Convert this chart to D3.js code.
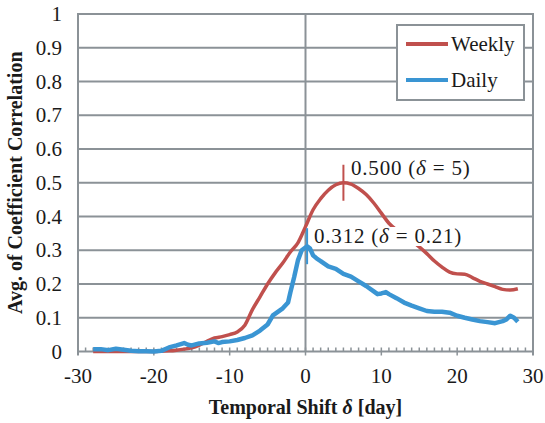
<!DOCTYPE html>
<html>
<head>
<meta charset="utf-8">
<script src="https://cdn.jsdelivr.net/npm/d3@7"></script>
</head>
<body style="margin:0">
<script>
// weekly series (smooth), shift in days
let weeklyX = [-28, -27, -26, -25, -24, -23, -22, -21, -20, -19, -18, -17, -16, -15, -14, -13, -12, -11, -10, -9, -8, -7, -6, -5, -4, -3, -2, -1, 0, 1, 2, 3, 4, 5, 6, 7, 8, 9, 10, 11, 12, 13, 14, 15, 16, 17, 18, 19, 20, 21, 22, 23, 24, 25, 26, 27, 28];
let weeklyY = [0, 0, 0, 0, 0, 0, 0, 0, 0, 0.001, 0.002, 0.004, 0.007, 0.011, 0.019, 0.03, 0.04, 0.044, 0.05, 0.058, 0.078, 0.124, 0.162, 0.2, 0.233, 0.262, 0.295, 0.322, 0.37, 0.42, 0.453, 0.478, 0.494, 0.5, 0.496, 0.483, 0.465, 0.44, 0.41, 0.38, 0.36, 0.345, 0.328, 0.31, 0.29, 0.268, 0.25, 0.235, 0.23, 0.229, 0.219, 0.208, 0.2, 0.192, 0.184, 0.182, 0.186];

// daily series (noisy)
let dailyX = [-28, -27, -26, -25, -24, -23, -22, -21, -20, -19, -18, -17, -16, -15.5, -15, -14, -13, -12, -11.5, -11, -10, -9, -8, -7, -6, -5, -4.3, -3, -2.3, -2, -1.5, -1, -0.5, 0.21, 0.6, 1, 1.5, 2, 3, 4, 5, 6, 7, 8, 9, 9.5, 10, 10.6, 11, 12, 13, 14, 15, 16, 17, 18, 19, 20, 21, 22, 23, 24, 25, 26, 26.5, 27, 27.5, 28];
let dailyY = [0.007, 0.007, 0.004, 0.008, 0.005, 0.002, 0.001, 0.001, 0, 0.002, 0.012, 0.018, 0.025, 0.02, 0.018, 0.024, 0.026, 0.03, 0.025, 0.028, 0.03, 0.034, 0.04, 0.048, 0.062, 0.08, 0.107, 0.128, 0.145, 0.175, 0.22, 0.27, 0.3, 0.312, 0.305, 0.285, 0.275, 0.268, 0.252, 0.245, 0.23, 0.222, 0.208, 0.194, 0.178, 0.17, 0.172, 0.176, 0.17, 0.158, 0.145, 0.136, 0.128, 0.12, 0.118, 0.118, 0.115, 0.106, 0.1, 0.095, 0.09, 0.087, 0.084, 0.09, 0.095, 0.106, 0.1, 0.088];

let xTicks = [-30, -20, -10, 0, 10, 20, 30];
let yTicks = [0, 0.1, 0.2, 0.3, 0.4, 0.5, 0.6, 0.7, 0.8, 0.9, 1];
let seriesNames = ['Weekly', 'Daily'];

let W = 545, H = 423;
let plotL = 78, plotR = 533, plotT = 14, plotB = 351.5;
let gridColor = '#8b9297';
let red = '#c0504d', blue = '#3a95d3';
let serif = 'Times New Roman';
let ink = '#1a1a1a';

let svg = d3.select('body').append('svg')
    .attr('width', W)
    .attr('height', H);

let x = d3.scaleLinear().domain([-30, 30]).range([plotL, plotR]);
let y = d3.scaleLinear().domain([0, 1]).range([plotB, plotT]);

function label(str, tx, ty, anchor, size) {
    return svg.append('text')
        .attr('x', tx)
        .attr('y', ty)
        .attr('text-anchor', anchor)
        .attr('font-family', serif)
        .attr('font-size', size)
        .attr('fill', ink)
        .text(str);
}

// horizontal grid
svg.append('g').selectAll('line')
    .data(yTicks.slice(1))
    .enter().append('line')
    .attr('x1', plotL).attr('x2', plotR)
    .attr('y1', d => y(d)).attr('y2', d => y(d))
    .attr('stroke', gridColor).attr('stroke-width', 2);

// vertical line at 0
svg.append('line')
    .attr('x1', x(0)).attr('x2', x(0))
    .attr('y1', plotT).attr('y2', plotB)
    .attr('stroke', gridColor).attr('stroke-width', 2);

// plot border (left, right) + axis
svg.append('line').attr('x1', plotL).attr('x2', plotL).attr('y1', plotT - 1).attr('y2', plotB + 4)
    .attr('stroke', gridColor).attr('stroke-width', 2);
svg.append('line').attr('x1', plotR).attr('x2', plotR).attr('y1', plotT - 1).attr('y2', plotB + 4)
    .attr('stroke', gridColor).attr('stroke-width', 2);
svg.append('line').attr('x1', plotL).attr('x2', plotR).attr('y1', plotB).attr('y2', plotB)
    .attr('stroke', gridColor).attr('stroke-width', 2);

// minor ticks every day, inside; majors cross the axis
svg.append('g').selectAll('line')
    .data(d3.range(-29, 30))
    .enter().append('line')
    .attr('x1', d => x(d)).attr('x2', d => x(d))
    .attr('y1', plotB - 4)
    .attr('y2', d => d % 10 == 0 ? plotB + 4 : plotB)
    .attr('stroke', gridColor).attr('stroke-width', 1.5);

// tick labels
for (let v of yTicks) label(String(v), 62, y(v) + 7, 'end', 21);
for (let v of xTicks) label(String(v), x(v), 383, 'middle', 21);

// axis titles
let xt = svg.append('text')
    .attr('x', x(0))
    .attr('y', 414)
    .attr('text-anchor', 'middle')
    .attr('font-family', serif)
    .attr('font-size', 20)
    .attr('font-weight', 'bold')
    .attr('fill', ink);
xt.append('tspan').text('Temporal Shift ');
xt.append('tspan').text('δ').attr('font-style', 'italic');
xt.append('tspan').text('  [day]');

svg.append('text')
    .text('Avg. of Coefficient Correlation')
    .attr('transform', 'translate(22,' + (y(0.5)) + ') rotate(-90)')
    .attr('text-anchor', 'middle')
    .attr('font-family', serif)
    .attr('font-size', 20)
    .attr('font-weight', 'bold')
    .attr('fill', ink);

// lines
let weeklyData = weeklyX.map((d, i) => [d, weeklyY[i]]);
let dailyData = dailyX.map((d, i) => [d, dailyY[i]]);

let smooth = d3.line()
    .x(d => x(d[0]))
    .y(d => y(d[1]))
    .curve(d3.curveMonotoneX);
let straight = d3.line()
    .x(d => x(d[0]))
    .y(d => y(d[1]));

svg.append('path')
    .datum(weeklyData)
    .attr('d', smooth)
    .attr('fill', 'none')
    .attr('stroke', red)
    .attr('stroke-width', 3.5);

svg.append('path')
    .datum(dailyData)
    .attr('d', straight)
    .attr('fill', 'none')
    .attr('stroke', blue)
    .attr('stroke-width', 4.5)
    .attr('stroke-linejoin', 'round');

// peak annotations
function annotate(px, py, color, val, shift, tx, ty) {
    svg.append('line')
        .attr('x1', x(px)).attr('x2', x(px))
        .attr('y1', y(py) - 18).attr('y2', y(py) + 18)
        .attr('stroke', color).attr('stroke-width', 2);

    let t = label('', tx, ty, 'start', 21)
        .attr('letter-spacing', 0.8);
    t.append('tspan').text(val + ' (');
    t.append('tspan').text('δ').attr('font-style', 'italic');
    t.append('tspan').text(' = ' + shift + ')');
    let bb = t.node().getBBox();
    svg.insert('rect', () => t.node())
        .attr('x', bb.x)
        .attr('y', bb.y + 3)
        .attr('width', bb.width)
        .attr('height', bb.height - 5)
        .attr('fill', '#fff');
}

annotate(weeklyX[33], weeklyY[33], red, '0.500', '5', 351, 175);
annotate(dailyX[33], dailyY[33], blue, '0.312', '0.21', 314, 243);

// legend
svg.append('rect')
    .attr('x', 397).attr('y', 25)
    .attr('width', 127).attr('height', 75)
    .attr('fill', '#fff')
    .attr('stroke', gridColor).attr('stroke-width', 2);

let legColors = [red, blue];
for (let i = 0; i < seriesNames.length; i++) {
    let ly = 44 + i * 36;
    svg.append('line')
        .attr('x1', 406).attr('x2', 448)
        .attr('y1', ly).attr('y2', ly)
        .attr('stroke', legColors[i]).attr('stroke-width', 4);
    label(seriesNames[i], 451, ly + 7, 'start', 21);
}
</script>
</body>
</html>
